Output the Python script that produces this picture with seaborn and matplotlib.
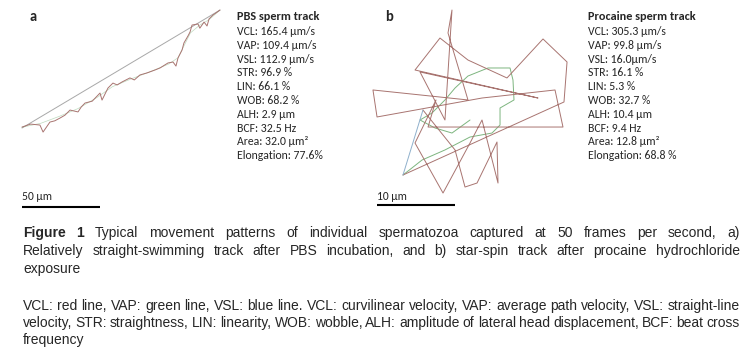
import matplotlib
matplotlib.use("Agg")
import matplotlib.pyplot as plt
import seaborn as sns

sns.set_theme(style="white")

# track a (PBS), micrometres, origin at track start
a_vcl_x = [0, 5.5, 11.5, 13.5, 17.9, 21.0, 24.4, 27.5, 30.8, 35.9, 38.0, 40.4, 45.0, 50.0, 51.3,
           55.1, 58.3, 61.0, 64.1, 69.2, 72.0, 75.6, 80.1, 85.3, 88.5, 93.6, 96.8, 98.7, 100.0,
           102.6, 103.8, 106.4, 107.7, 109.0, 112.8, 114.0, 116.7, 118.6, 119.9, 122.4, 126.9]
a_vcl_y = [0.6, 2.5, 1.9, -2.6, 3.8, 4.6, 6.4, 8.2, 11.5, 10.3, 13.5, 16.0, 17.2, 22.4, 17.9,
           25.6, 28.8, 27.6, 29.5, 32.1, 30.8, 34.0, 35.3, 37.2, 38.5, 41.7, 42.3, 39.7, 44.9,
           50.0, 54.5, 59.0, 61.5, 66.0, 66.7, 64.0, 67.9, 65.4, 69.9, 72.4, 75.6]
a_vap_x = [0, 12.0, 24.0, 36.0, 48.0, 58.0, 70.0, 82.0, 94.0, 100.0, 104.0, 108.0, 114.0, 120.0, 126.9]
a_vap_y = [0.5, 3.0, 7.5, 12.5, 19.5, 26.5, 31.5, 36.0, 41.0, 45.0, 53.0, 61.0, 66.0, 69.5, 75.6]
a_vsl_x = [0, 126.9]
a_vsl_y = [0, 75.6]

# track b (procaine), micrometres, origin at track start
b_vcl_x = [0, 20.64, 21.03, 17.95, 13.33, 8.33, 4.74, 1.54, 17.31, 2.18, 5.38, 6.28, 5.77,
           8.33, -3.85, -3.33, 10.13, 19.49, 20.51, 3.21, 4.23, 1.54, 5.13, 8.59, 10.13,
           12.18, 12.05, 9.49, 7.95, 6.67, 2.56]
b_vcl_y = [0, 9.36, 14.49, 17.44, 12.44, 14.74, 17.56, 13.46, 9.87, 13.21, 7.05, 21.15, 18.21,
           9.62, 10.90, 7.44, 9.87, 10.90, 6.15, 6.15, 9.62, 4.10, -2.31, 4.10, 7.05,
           -1.03, 4.23, -1.03, -1.54, 3.21, 8.33]
b_vap_x = [0, 2.44, 5.38, 8.59, 11.41, 12.44, 12.44, 14.23, 14.10, 13.72, 10.90, 8.33, 6.67,
           5.38, 3.72, 2.18, 4.10, 6.28, 8.59]
b_vap_y = [0, 1.92, 3.21, 4.87, 5.38, 6.41, 8.59, 9.62, 12.18, 13.72, 13.72, 12.69, 11.15,
           9.62, 7.95, 7.05, 6.03, 5.38, 7.05]
b_vsl_x = [0, 2.56]
b_vsl_y = [0, 8.33]

a_stats = ["VCL: 165.4 μm/s", "VAP: 109.4 μm/s", "VSL: 112.9 μm/s", "STR: 96.9 %", "LIN: 66.1 %",
           "WOB: 68.2 %", "ALH: 2.9 μm", "BCF: 32.5 Hz", "Area: 32.0 μm²", "Elongation: 77.6%"]
b_stats = ["VCL: 305.3 μm/s", "VAP: 99.8 μm/s", "VSL: 16.0μm/s", "STR: 16.1 %", "LIN: 5.3 %",
           "WOB: 32.7 %", "ALH: 10.4 μm", "BCF: 9.4 Hz", "Area: 12.8 μm²", "Elongation: 68.8 %"]

red, green, blue, grey = "#a87470", "#7db57f", "#8fb0cc", "#a8a8a8"
W, H = 752, 347
fig = plt.figure(figsize=(W / 100, H / 100), dpi=100)

def panel_axes(ox, oy, um_per_px):
    ax = fig.add_axes([0, 0, 1, 1])
    ax.set_xlim(-ox * um_per_px, (W - ox) * um_per_px)
    ax.set_ylim((oy - H) * um_per_px, oy * um_per_px)
    ax.axis("off")
    ax.patch.set_alpha(0)
    return ax

# panel a: 78 px = 50 um
ax_a = panel_axes(22, 128, 50 / 78)
sns.lineplot(x=a_vsl_x, y=a_vsl_y, sort=False, estimator=None, color=grey, lw=0.7, ax=ax_a)
sns.lineplot(x=a_vap_x, y=a_vap_y, sort=False, estimator=None, color=green, lw=0.5, alpha=0.5, ax=ax_a)
sns.lineplot(x=a_vcl_x, y=a_vcl_y, sort=False, estimator=None, color=red, lw=0.7, ax=ax_a)
ax_a.plot([0, 50], [-50.6, -50.6], color="black", lw=1.5, solid_capstyle="butt")

# panel b: 78 px = 10 um
ax_b = panel_axes(403, 175, 10 / 78)
sns.lineplot(x=b_vap_x, y=b_vap_y, sort=False, estimator=None, color=green, lw=0.7, ax=ax_b)
sns.lineplot(x=b_vcl_x, y=b_vcl_y, sort=False, estimator=None, color=red, lw=0.7, ax=ax_b)
sns.lineplot(x=b_vsl_x, y=b_vsl_y, sort=False, estimator=None, color=blue, lw=0.7, ax=ax_b)
ax_b.plot([-3.33, 6.67], [-3.85, -3.85], color="black", lw=1.5, solid_capstyle="butt")

side_font = ["Carlito", "Open Sans", "DejaVu Sans"]

def px(x, y):
    return x / W, 1 - y / H

fig.text(*px(30, 17), "a", fontsize=10.5, fontweight="bold", family=side_font, va="center")
fig.text(*px(385, 17), "b", fontsize=10.5, fontweight="bold", family=side_font, va="center")
fig.text(*px(22, 197), "50 μm", fontsize=8.3, family=side_font, va="center")
fig.text(*px(377, 197), "10 μm", fontsize=8.3, family=side_font, va="center")

for x0, title, stats in [(237, "PBS sperm track", a_stats), (588, "Procaine sperm track", b_stats)]:
    fig.text(*px(x0, 16), title, fontsize=8.8, fontweight="bold", family=side_font, va="center")
    for i, s in enumerate(stats):
        fig.text(*px(x0, 31.5 + i * 13.8), s, fontsize=8.5, family=side_font, va="center")

# caption, justified between x=23 and x=740
cap_font = ["Liberation Sans Narrow", "Liberation Sans", "DejaVu Sans"]
renderer = fig.canvas.get_renderer()

def caption_line(y, text, justify=True, bold_words=0):
    words = text.split(" ")
    items = []
    for i, w in enumerate(words):
        t = fig.text(*px(23, y), w, fontsize=10, family=cap_font, va="center",
                     fontweight="bold" if i < bold_words else "normal")
        items.append(t)
    widths = [t.get_window_extent(renderer).width for t in items]
    if justify and len(items) > 1:
        gap = (740 - 23 - sum(widths)) / (len(items) - 1)
    else:
        gap = 3.0
    x = 23
    for t, w in zip(items, widths):
        t.set_x(x / W)
        x += w + gap

caption_line(233, "Figure 1 Typical movement patterns of individual spermatozoa captured at 50 frames per second, a)", bold_words=2)
caption_line(251, "Relatively straight-swimming track after PBS incubation, and b) star-spin track after procaine hydrochloride")
caption_line(269, "exposure", justify=False)
caption_line(306, "VCL: red line, VAP: green line, VSL: blue line. VCL: curvilinear velocity, VAP: average path velocity, VSL: straight-line")
caption_line(323, "velocity, STR: straightness, LIN: linearity, WOB: wobble, ALH: amplitude of lateral head displacement, BCF: beat cross")
caption_line(340, "frequency", justify=False)

fig.savefig("out.png", dpi=100)
